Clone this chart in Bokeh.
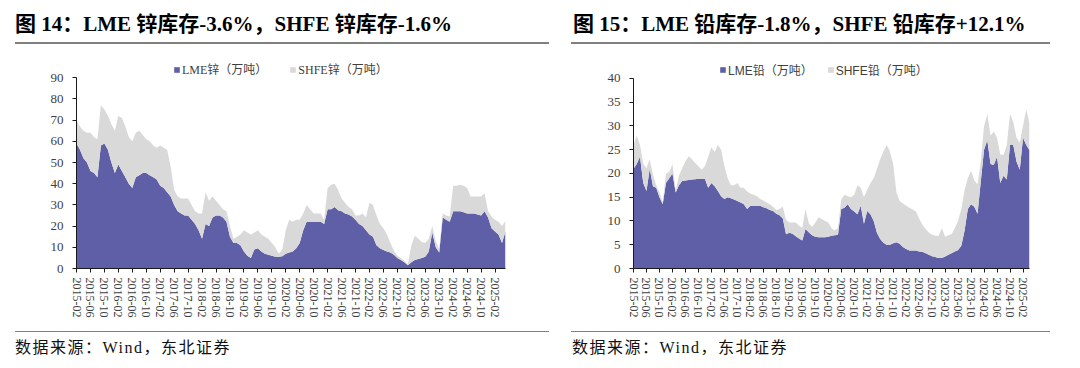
import pandas as pd
from bokeh.plotting import figure
from bokeh.models import (ColumnDataSource, Range1d, FixedTicker, Legend, LegendItem, Div,
                          AllLabels)
from bokeh.layouts import row, column
from bokeh.embed import file_html
from bokeh.resources import INLINE

# ---------------- data (万吨, monthly from 2015-02) ----------------
START = "2015-02"
tick_labels = ["2015-02", "2015-06", "2015-10", "2016-02", "2016-06", "2016-10",
               "2017-02", "2017-06", "2017-10", "2018-02", "2018-06", "2018-10",
               "2019-02", "2019-06", "2019-10", "2020-02", "2020-06", "2020-10",
               "2021-02", "2021-06", "2021-10", "2022-02", "2022-06", "2022-10",
               "2023-02", "2023-06", "2023-10", "2024-02", "2024-06", "2024-10",
               "2025-02"]

zn_lme = [59, 56, 52, 50, 46, 45, 43, 58, 59, 56,
          50, 45, 49, 46, 43, 40, 38, 43, 44, 45,
          45, 44, 43, 42, 39, 38, 36, 34, 30, 27,
          26, 25, 25, 23, 21, 18, 14, 21, 20, 24,
          25, 25, 24, 22, 15, 12, 12, 11, 8, 6,
          5, 9, 9.5, 8, 7, 6.5, 6, 5.5, 5.5, 5.8,
          7, 7.5, 8, 9.5, 12, 18, 22, 22, 22, 22,
          22, 21, 28, 28, 29, 27.5, 27, 26, 25.5, 24.5,
          23, 21, 20, 18, 16, 15, 11, 9.5, 8.7, 8,
          7.5, 6.5, 5, 4, 3, 1.5, 3, 4, 4.5, 5,
          5.5, 8, 17, 10, 7.5, 24, 23, 22, 27, 27,
          27, 26.5, 26, 26, 26, 25.5, 25, 27, 24, 19,
          17.5, 16, 12, 17.5]
zn_shfe = [11, 11, 13, 14, 18, 17, 18, 19, 16, 16,
           18, 20, 23, 25, 24, 22, 22, 21, 21, 18,
           16, 16, 15, 15, 19, 19, 20, 14, 7, 7,
           7, 8, 8, 7, 6, 8, 12, 15, 12, 10,
           7, 5, 4, 5, 5, 2, 3, 5, 10, 11,
           11, 8, 8.5, 8, 8, 7.5, 6, 4.5, 1.5, 3.2,
           11, 15.5, 14, 13.5, 11, 8, 8, 6, 4, 4,
           4, 2, 10, 11.5, 11, 9.5, 6, 5, 3.5, 3.5,
           2, 4, 6, 6, 15, 15, 14, 11.5, 10.3, 8,
           4.5, 2, 1, 1, 0.5, 0.5, 8, 11.5, 9.5, 7.5,
           6.5, 6, 3, 3, 1.5, 2, 2, 2.5, 12, 12,
           12.5, 12.5, 12, 8, 8, 8.5, 9, 8.5, 3, 5.5,
           5.5, 6, 8, 5]

pb_lme = [21, 22, 23.5, 18, 16.3, 21, 17.3, 17, 15, 13.5,
          18, 19, 20, 16, 17.5, 18.4, 18.5, 18.6, 18.7, 18.8,
          18.9, 18.9, 18.9, 17, 18, 17.3, 16.3, 15.2, 14.6, 15,
          14.8, 14.5, 14.2, 13.9, 13.5, 12.5, 13.2, 13.2, 13.2, 13.2,
          12.9, 12.7, 12.3, 12.1, 11.5, 11.2, 10.5, 7.2, 7.5, 7.3,
          6.8, 6.3, 5.9, 8.3, 7.6, 7, 6.7, 6.6, 6.6, 6.6,
          6.7, 6.9, 7, 7.1, 12.5, 12.8, 13.5, 12.5, 12, 11.4,
          13.2, 9.4, 12.1, 11.4, 10, 7.5, 6.2, 5.4, 5, 5,
          5.3, 5.5, 5.2, 4.5, 4.1, 3.8, 3.8, 3.8, 3.6, 3.5,
          3.2, 2.9, 2.6, 2.4, 2.2, 2.2, 2.5, 2.9, 3.2, 3.6,
          3.9, 4.8, 8, 12.5, 13.5, 13, 11.5, 18.4, 25, 27,
          22, 21.8, 23.5, 18, 19.5, 18.7, 26, 26, 22.5, 20.8,
          27.5, 26, 24.9]
pb_shfe = [5, 6, 2.5, 4, 4.8, 2, 2.4, 0.5, 1, 0.5,
           2, 1.3, 2, 0.3, 2, 2.7, 4, 5, 4.3, 3.4,
           2.6, 1.9, 2.6, 6.5, 7.5, 7.2, 9.7, 9.8, 6.9, 4,
           2.7, 3, 3.8, 3.1, 3.5, 3.7, 2.6, 2.3, 2, 1.4,
           1.4, 1.2, 1.2, 0.9, 0.8, 1.3, 2.5, 3, 2.2, 2.4,
           2.9, 2.7, 2.6, 4.2, 1.9, 1.8, 2.9, 4.2, 3.8, 3.4,
           3, 1.6, 1, 1.4, 2, 2.7, 1.7, 2.5, 3.5, 6.1,
           3.8, 5.6, 4.4, 6.6, 9, 13.5, 16.8, 19.2, 21, 19.6,
           16.7, 10.5, 9, 9.2, 9.1, 9, 8.6, 8.2, 6.9, 5.7,
           5.1, 4.6, 4.5, 4.5, 4.7, 6.3, 4.2, 4.1, 4, 4.9,
           6.1, 7.7, 8.5, 6.5, 7, 5.5, 6.2, 4.1, 5, 5.5,
           6, 7, 4, 6, 4.4, 7.3, 6.5, 4.8, 5, 5.7,
           2.5, 7.5, 5.6]

titles = ["图 14：LME 锌库存-3.6%，SHFE 锌库存-1.6%",
          "图 15：LME 铅库存-1.8%，SHFE 铅库存+12.1%"]
legend_labels = [["LME锌（万吨）", "SHFE锌（万吨）"],
                 ["LME铅（万吨）", "SHFE铅（万吨）"]]
source_text = "数据来源：Wind，东北证券"

LME_COLOR = "#5F5FA7"
SHFE_COLOR = "#D9D9D9"
CSS_SERIF = "'Liberation Serif', 'Noto Sans CJK SC', serif"
HEAD_H = 48
CHART_H = 277
FOOT_H = 43
TOP_B = 8       # chart frame top at page y 56 (room for the legend)
BOT_B = 57      # chart frame bottom at page y 268


def header(width, title, tx, lx, lw):
    html = (f'<div style="position:relative;width:{width}px;height:{HEAD_H}px;">'
            f'<div style="position:absolute;left:{tx}px;top:12px;white-space:nowrap;'
            f'font-family:{CSS_SERIF};font-weight:bold;font-size:21px;line-height:24px;'
            f'color:#000;">{title}</div>'
            f'<div style="position:absolute;left:{lx}px;top:42px;width:{lw}px;height:2px;'
            f'background:#808080;"></div></div>')
    return Div(text=html, width=width, height=HEAD_H, margin=0)


def footer(width, tx, lx, lw):
    html = (f'<div style="position:relative;width:{width}px;height:{FOOT_H}px;">'
            f'<div style="position:absolute;left:{lx}px;top:6px;width:{lw}px;height:1px;'
            f'background:#808080;"></div>'
            f'<div style="position:absolute;left:{tx}px;top:13px;white-space:nowrap;'
            f'font-family:{CSS_SERIF};font-size:16px;letter-spacing:1.5px;line-height:20px;'
            f'color:#111;">{source_text}</div></div>')
    return Div(text=html, width=width, height=FOOT_H, margin=0)


def chart(lme, shfe, y_end, y_top, y_step, leg, leg_font, width, left, right, leg_x, leg_sp):
    n = len(lme)
    months = pd.period_range(START, periods=n, freq="M").strftime("%Y-%m").tolist()
    src = ColumnDataSource(dict(x=list(range(n)), lme=lme, shfe=shfe))
    p = figure(width=width, height=CHART_H, x_range=Range1d(0, n - 1), y_range=Range1d(0, y_top),
               output_backend="svg", toolbar_location=None,
               min_border_left=left, min_border_right=right,
               min_border_top=TOP_B, min_border_bottom=BOT_B, margin=0)
    p.outline_line_color = None
    p.grid.visible = False
    rs = p.varea_stack(stackers=["lme", "shfe"], x="x", color=[LME_COLOR, SHFE_COLOR], source=src)

    ticks = [months.index(t) for t in tick_labels if t in months]
    p.xaxis.ticker = FixedTicker(ticks=ticks)
    p.xaxis.major_label_overrides = {i: months[i] for i in ticks}
    p.yaxis.ticker = FixedTicker(ticks=list(range(0, y_end + 1, y_step)))
    p.yaxis.bounds = (0, y_end)

    for ax in (p.xaxis, p.yaxis):
        ax.axis_line_color = "#1a1a1a"
        ax.axis_line_width = 1
        ax.major_tick_line_color = "#1a1a1a"
        ax.major_tick_out = 4
        ax.major_tick_in = 0
        ax.minor_tick_out = 0
        ax.minor_tick_in = 0
        ax.major_label_text_font = "Liberation Serif"
        ax.major_label_text_color = "#404040"
        ax.major_label_policy = AllLabels()
    p.xaxis.major_label_text_font_size = "12px"
    p.yaxis.major_label_text_font_size = "13px"
    p.xaxis.major_label_orientation = "vertical"
    p.xaxis.major_label_standoff = 5
    p.yaxis.major_label_standoff = 9

    legend = Legend(items=[LegendItem(label=leg[0], renderers=[rs[0]]),
                           LegendItem(label=leg[1], renderers=[rs[1]])],
                    location=(leg_x, 190), orientation="horizontal",
                    glyph_width=7, glyph_height=7, label_standoff=2, spacing=leg_sp,
                    padding=0, margin=0, border_line_color=None, background_fill_alpha=0,
                    label_text_font=leg_font, label_text_font_size="12px",
                    label_text_color="#404040", label_height=14)
    p.add_layout(legend)
    return p


# left panel spans page x 0..555, right panel 555..1080
c1 = chart(zn_lme, zn_shfe, 90, 100, 10, legend_labels[0], "Liberation Serif, Noto Sans CJK SC",
           555, 76, 50, 97, 22)
c2 = chart(pb_lme, pb_shfe, 40, 44.6, 5, legend_labels[1], "Liberation Sans, Noto Sans CJK SC",
           525, 78, 51, 86, 14)

left_col = column(header(555, titles[0], 15, 15, 534), c1, footer(555, 15, 15, 534), spacing=0)
right_col = column(header(525, titles[1], 18, 16, 479), c2, footer(525, 17, 16, 479), spacing=0)

layout = row(left_col, right_col, spacing=0)
open("out.html", "w").write(file_html(layout, INLINE))
